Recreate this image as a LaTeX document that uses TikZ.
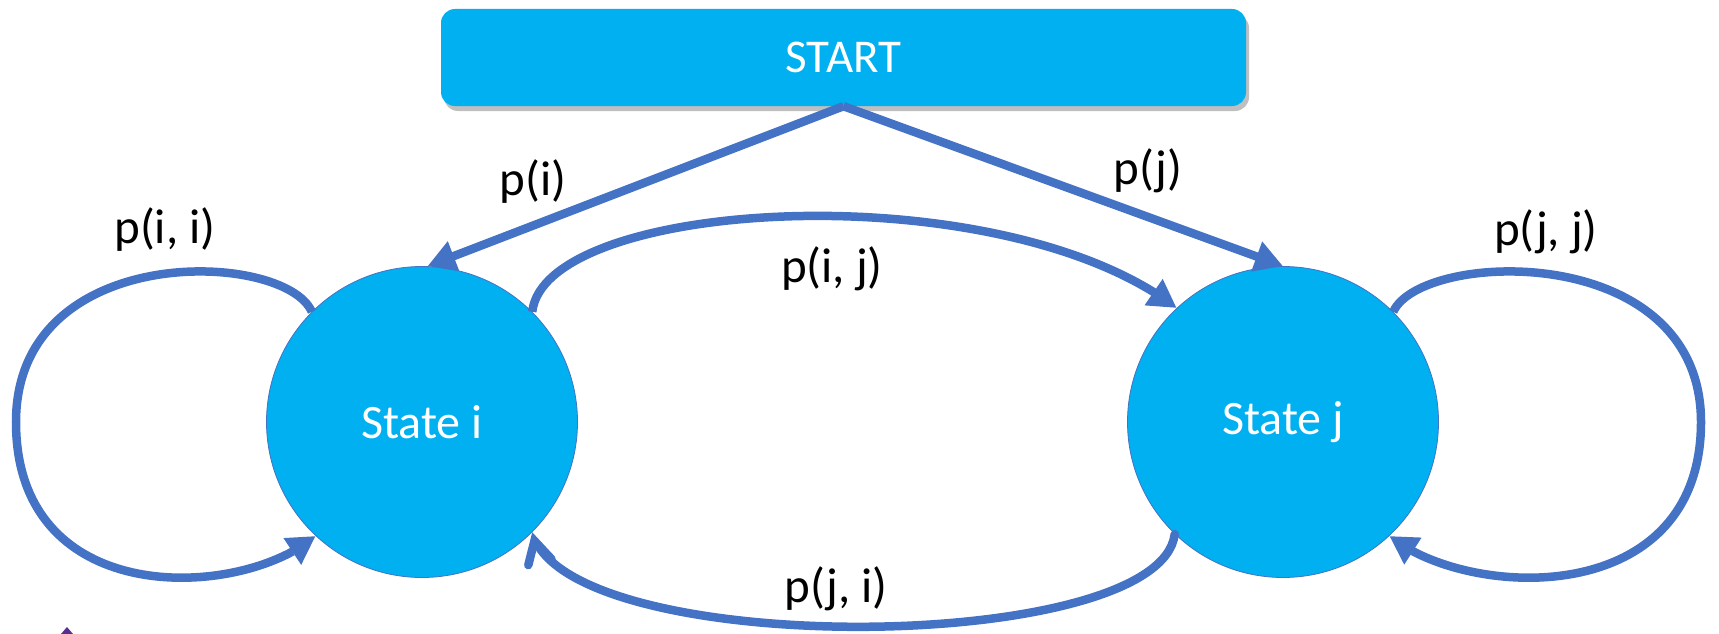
\documentclass[tikz,border=0pt]{standalone}
\usepackage{fontspec}
\setmainfont{Carlito}
\usetikzlibrary{arrows.meta,shadows,bending}
\definecolor{flowblue}{HTML}{4472C4}
\definecolor{statefill}{HTML}{00B0F0}
\definecolor{markpurple}{HTML}{5B2C8F}
\tikzset{
  statenode/.style={circle, fill=statefill, draw=flowblue, line width=0.8pt,
    minimum size=311pt, inner sep=0pt, text=white,
    font=\fontsize{48}{56}\selectfont},
  startbox/.style={rectangle, rounded corners=14pt, fill=statefill,
    minimum width=805pt, minimum height=97pt, text=white,
    font=\fontsize{47}{55}\selectfont,
    drop shadow={opacity=0.5, shadow xshift=3pt, shadow yshift=-5pt}},
  problabel/.style={text=black, font=\fontsize{49}{57}\selectfont, inner sep=0pt},
  flow/.style={draw=flowblue, line width=8.5pt,
    -{Triangle[length=28pt,width=30pt]}},
  flowopen/.style={draw=flowblue, line width=8.5pt, line cap=round,
    -{Straight Barb[length=22pt,width=24pt,line cap=round,flex=0]}}
}
\begin{document}
\begin{tikzpicture}[x=1pt,y=-1pt]
  \useasboundingbox (0,0) rectangle (1719,634);

  % nodes
  \node[startbox] (start) at (843.5,57.5) {START};
  \node[statenode] (si) at (422,422) {State i};
  \node[statenode] (sj) at (1283,422) {State j};

  % helper points for the self loops
  \coordinate (li) at (16,422);
  \coordinate (rj) at (1701,422);

  % entry transitions
  \draw[flow] (start.south) -- (si.88);
  \draw[flow] (start.south) -- (sj.north);

  % self loop on state i
  \draw[flow] (si.135) .. controls (285,250) and (16,240) .. (li)
                       .. controls (16,610) and (240,600) .. (si.227);
  % self loop on state j
  \draw[flow] (sj.45) .. controls (1421,250) and (1701,240) .. (rj)
                      .. controls (1701,610) and (1468,600) .. (sj.-47);

  % transitions between the states
  \draw[flow] (si.45) .. controls (545,198) and (1000,172) .. (sj.133);
  \draw[flowopen] (sj.226) .. controls (1160,656) and (565,660) .. (si.-45);

  % probability labels
  \node[problabel] (lii) at (165,230) {p(i, i)};
  \node[problabel] (li0) at (533,182) {p(i)};
  \node[problabel] (lj0) at (1148,171) {p(j)};
  \node[problabel] (ljj) at (1546,232) {p(j, j)};
  \node[problabel] (lij) at (832,269) {p(i, j)};
  \node[problabel] (lji) at (836,589) {p(j, i)};

  % small mark at the lower left edge
  \fill[markpurple] (61,634) -- (67,627) -- (73,634) -- cycle;
\end{tikzpicture}
\end{document}
